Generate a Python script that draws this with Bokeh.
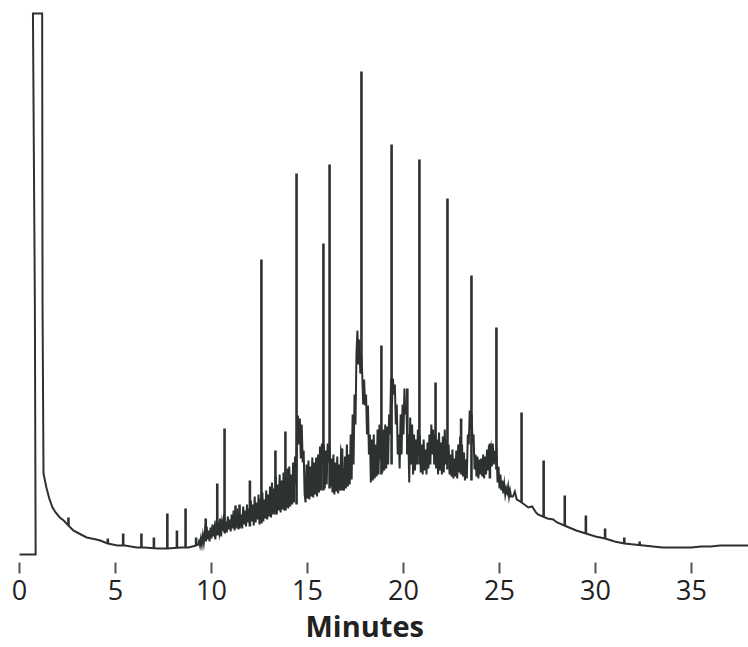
from bokeh.plotting import figure
from bokeh.models import Range1d, FixedTicker, Title
from bokeh.embed import file_html
from bokeh.resources import INLINE

# Retention time axis ticks (minutes)
tick_values = [0, 5, 10, 15, 20, 25, 30, 35]
axis_title = "Minutes"

# Solvent peak and early baseline (time in min, detector response in arb. units)
solvent_t = [0.0, 0.84, 0.80, 0.70, 1.18, 1.20, 1.25, 1.40, 1.55, 1.72, 1.88, 2.1, 2.3, 2.55,
             2.8, 3.2, 3.5, 4.0, 4.2, 4.6, 5.1, 5.5, 6.1, 6.5, 7.2, 7.7, 8.4, 8.8, 9.2]
solvent_v = [0, 0, 250, 541, 541, 250, 81, 67, 56, 47, 42, 37, 34, 29,
             24, 20, 17, 15, 14, 11, 9, 9, 7, 7, 6, 6, 7, 7, 9]

# Unresolved complex mixture region (dense small peaks), 9.30 - 25.60 min
grass_t = [
    9.30, 9.35, 9.40, 9.45, 9.50, 9.55, 9.60, 9.65, 9.70, 9.75, 9.80, 9.85, 9.90, 9.95,
    10.00, 10.05, 10.10, 10.15, 10.20, 10.25, 10.30, 10.35, 10.40, 10.45, 10.50, 10.55, 10.60, 10.65, 10.70, 10.75, 10.80, 10.85, 10.90, 10.95,
    11.00, 11.05, 11.10, 11.15, 11.20, 11.25, 11.30, 11.35, 11.40, 11.45, 11.50, 11.55, 11.60, 11.65, 11.70, 11.75, 11.80, 11.85, 11.90, 11.95,
    12.00, 12.05, 12.10, 12.15, 12.20, 12.25, 12.30, 12.35, 12.40, 12.45, 12.50, 12.55, 12.60, 12.65, 12.70, 12.75, 12.80, 12.85, 12.90, 12.95,
    13.00, 13.05, 13.10, 13.15, 13.20, 13.25, 13.30, 13.35, 13.40, 13.45, 13.50, 13.55, 13.60, 13.65, 13.70, 13.75, 13.80, 13.85, 13.90, 13.95,
    14.00, 14.05, 14.10, 14.15, 14.20, 14.25, 14.30, 14.35, 14.40, 14.45, 14.50, 14.55, 14.60, 14.65, 14.70, 14.75, 14.80, 14.85, 14.90, 14.95,
    15.00, 15.05, 15.10, 15.15, 15.20, 15.25, 15.30, 15.35, 15.40, 15.45, 15.50, 15.55, 15.60, 15.65, 15.70, 15.75, 15.80, 15.85, 15.90, 15.95,
    16.00, 16.05, 16.10, 16.15, 16.20, 16.25, 16.30, 16.35, 16.40, 16.45, 16.50, 16.55, 16.60, 16.65, 16.70, 16.75, 16.80, 16.85, 16.90, 16.95,
    17.00, 17.05, 17.10, 17.15, 17.20, 17.25, 17.30, 17.35, 17.40, 17.45, 17.50, 17.55, 17.60, 17.65, 17.70, 17.75, 17.80, 17.85, 17.90, 17.95,
    18.00, 18.05, 18.10, 18.15, 18.20, 18.25, 18.30, 18.35, 18.40, 18.45, 18.50, 18.55, 18.60, 18.65, 18.70, 18.75, 18.80, 18.85, 18.90, 18.95,
    19.00, 19.05, 19.10, 19.15, 19.20, 19.25, 19.30, 19.35, 19.40, 19.45, 19.50, 19.55, 19.60, 19.65, 19.70, 19.75, 19.80, 19.85, 19.90, 19.95,
    20.00, 20.05, 20.10, 20.15, 20.20, 20.25, 20.30, 20.35, 20.40, 20.45, 20.50, 20.55, 20.60, 20.65, 20.70, 20.75, 20.80, 20.85, 20.90, 20.95,
    21.00, 21.05, 21.10, 21.15, 21.20, 21.25, 21.30, 21.35, 21.40, 21.45, 21.50, 21.55, 21.60, 21.65, 21.70, 21.75, 21.80, 21.85, 21.90, 21.95,
    22.00, 22.05, 22.10, 22.15, 22.20, 22.25, 22.30, 22.35, 22.40, 22.45, 22.50, 22.55, 22.60, 22.65, 22.70, 22.75, 22.80, 22.85, 22.90, 22.95,
    23.00, 23.05, 23.10, 23.15, 23.20, 23.25, 23.30, 23.35, 23.40, 23.45, 23.50, 23.55, 23.60, 23.65, 23.70, 23.75, 23.80, 23.85, 23.90, 23.95,
    24.00, 24.05, 24.10, 24.15, 24.20, 24.25, 24.30, 24.35, 24.40, 24.45, 24.50, 24.55, 24.60, 24.65, 24.70, 24.75, 24.80, 24.85, 24.90, 24.95,
    25.00, 25.05, 25.10, 25.15, 25.20, 25.25, 25.30, 25.35, 25.40, 25.45, 25.50, 25.55, 25.60,
]
grass_v = [
    10, 13, 9, 16, 10, 19, 12, 22, 14, 28, 15, 24, 13, 27,
    16, 30, 18, 26, 15, 34, 19, 28, 22, 36, 18, 31, 24, 40, 21, 33, 22, 38, 25, 35,
    23, 40, 26, 44, 24, 36, 27, 46, 25, 42, 28, 40, 26, 48, 30, 44, 28, 50, 32, 46,
    30, 54, 33, 50, 29, 58, 32, 52, 35, 60, 30, 56, 34, 62, 33, 55, 36, 64, 35, 60,
    38, 68, 37, 72, 40, 66, 42, 78, 40, 70, 44, 80, 42, 74, 45, 82, 44, 76, 47, 86,
    46, 88, 48, 80, 50, 92, 52, 98, 70, 120, 139, 110, 136, 96, 130, 92, 104, 60, 52, 90,
    56, 94, 55, 88, 58, 97, 57, 92, 60, 97, 58, 100, 62, 108, 64, 111, 90, 110, 66, 104,
    70, 111, 100, 108, 68, 96, 62, 100, 60, 92, 63, 98, 61, 90, 64, 104, 100, 70, 64, 98,
    66, 110, 68, 100, 70, 120, 75, 140, 90, 160, 130, 200, 224, 190, 215, 181, 200, 181, 150, 175,
    149, 160, 120, 149, 100, 120, 72, 115, 74, 120, 76, 110, 78, 125, 80, 130, 95, 120, 82, 125,
    84, 130, 86, 128, 90, 140, 120, 176, 150, 176, 160, 170, 130, 150, 100, 120, 86, 140, 100, 150,
    120, 166, 140, 150, 110, 120, 72, 137, 90, 130, 80, 120, 84, 115, 90, 125, 100, 120, 82, 110,
    80, 115, 84, 105, 80, 112, 86, 120, 90, 130, 100, 125, 90, 120, 86, 115, 80, 122, 84, 112,
    80, 118, 82, 125, 90, 115, 100, 110, 80, 100, 78, 105, 76, 96, 78, 104, 76, 110, 82, 118,
    90, 110, 78, 102, 74, 95, 76, 120, 110, 144, 125, 140, 110, 120, 85, 100, 78, 98, 76, 95,
    80, 96, 78, 100, 76, 98, 80, 105, 84, 109, 100, 106, 88, 111, 90, 104, 95, 100, 72, 88,
    66, 80, 64, 74, 61, 70, 60, 66, 62, 68, 58, 64, 58,
]

# Late baseline / hump tail
tail_t = [25.7, 25.8, 25.9, 26.0, 26.3, 26.5, 26.7, 26.9, 27.0, 27.5, 27.8, 28.0, 28.5, 29.0,
          29.5, 30.0, 30.5, 31.0, 31.5, 32.0, 32.5, 33.0, 33.5, 34.0, 34.5, 35.0, 35.5, 36.0,
          36.5, 37.0, 38.0]
tail_v = [58, 63, 55, 54, 50, 47, 48, 42, 40, 36, 35, 32, 28, 24,
          21, 18, 16, 13, 11, 10, 9, 8, 7, 7, 7, 7, 8, 8,
          9, 9, 9]

# Resolved peaks: retention time, foot level, apex level
peak_t = [2.55, 4.6, 5.4, 6.35, 7.0, 7.7, 8.2, 8.65, 9.2, 9.7,
          10.3, 10.68, 11.25, 11.46, 12.0, 12.6, 13.33, 13.85, 14.43, 15.83,
          16.15, 16.8, 17.81, 18.85, 19.38, 20.2, 20.83, 21.67, 22.29, 23.0,
          23.54, 24.5, 24.84, 26.15, 27.3, 28.4, 29.5, 30.5, 31.5, 32.3]
peak_foot = [29, 11, 9, 7, 6, 6, 7, 7, 9, 13,
             20, 22, 26, 26, 28, 31, 40, 44, 50, 64,
             66, 64, 181, 80, 90, 100, 90, 90, 85, 80,
             74, 76, 85, 52, 38, 29, 21, 16, 11, 9]
peak_top = [37, 16, 21, 21, 17, 41, 24, 46, 17, 36,
            71, 126, 49, 50, 74, 295, 104, 123, 381, 311,
            390, 106, 483, 209, 410, 166, 395, 172, 356, 136,
            279, 111, 227, 142, 94, 59, 39, 26, 17, 13]

INK = "#2d3131"

p = figure(width=748, height=647, output_backend="svg", toolbar_location=None,
           x_range=Range1d(-0.99, 37.97), y_range=Range1d(-8, 554),
           y_axis_type=None,
           min_border_left=0, min_border_right=0, min_border_top=0, min_border_bottom=85)
p.grid.visible = False
p.outline_line_color = None
p.background_fill_color = "white"
p.border_fill_color = "white"

trace_t = solvent_t + grass_t + tail_t
trace_v = solvent_v + grass_v + tail_v
p.line(trace_t, trace_v, line_color=INK, line_width=2, line_join="miter")
p.segment(x0=peak_t, y0=peak_foot, x1=peak_t, y1=peak_top, line_color=INK, line_width=2.6)

ax = p.xaxis[0]
ax.ticker = FixedTicker(ticks=tick_values)
ax.axis_line_color = None
ax.major_tick_in = 0
ax.major_tick_out = 11
ax.major_tick_line_width = 2
ax.major_tick_line_color = "#555555"
ax.minor_tick_line_color = None
ax.major_label_text_font = "Open Sans"
ax.major_label_text_font_size = "27px"
ax.major_label_text_color = "#222222"
ax.major_label_standoff = 6

title = Title(text=axis_title, align="left", offset=305, standoff=3,
              text_font="Open Sans", text_font_size="29px", text_font_style="bold",
              text_color="#222222")
p.add_layout(title, "below")

open("out.html", "w").write(file_html(p, INLINE))
